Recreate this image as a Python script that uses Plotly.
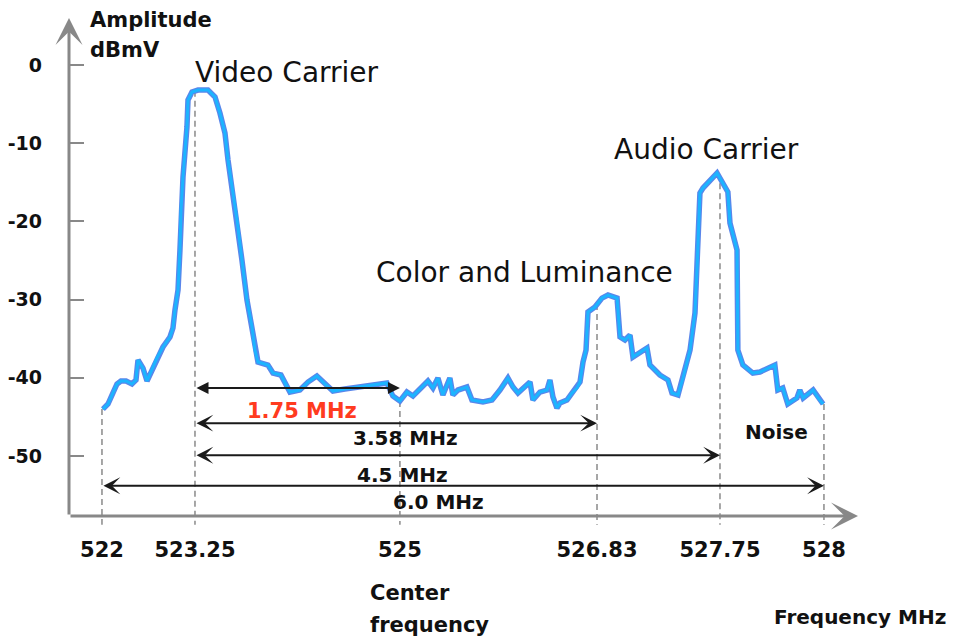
import numpy as np
import plotly.graph_objects as go

# ---------------- data ----------------
freq_mhz = [
    522.013, 522.081, 522.148, 522.202, 522.255, 522.323, 522.403, 522.457, 522.484, 522.551,
    522.605, 522.659, 522.739, 522.820, 522.914, 522.954, 522.981, 523.022, 523.048, 523.062,
    523.089, 523.142, 523.156, 523.210, 523.276, 523.361, 523.421, 523.463, 523.506, 523.532,
    523.566, 523.609, 523.651, 523.694, 523.737, 523.762, 523.788, 523.873, 523.916, 523.984,
    524.061, 524.146, 524.215, 524.291, 524.360, 524.428, 524.530, 524.659, 524.770, 524.889,
    524.940, 525.000, 525.065, 525.121, 525.214, 525.260, 525.307, 525.353, 525.399, 525.464,
    525.492, 525.539, 525.622, 525.669, 525.771, 525.855, 525.929, 526.003, 526.050, 526.096,
    526.208, 526.235, 526.300, 526.366, 526.393, 526.421, 526.458, 526.486, 526.551, 526.598,
    526.644, 526.672, 526.700, 526.728, 526.746, 526.811, 526.867, 526.912, 526.980, 527.002,
    527.039, 527.077, 527.099, 527.204, 527.226, 527.301, 527.361, 527.391, 527.436, 527.473,
    527.526, 527.563, 527.578, 527.600, 527.623, 527.728, 527.769, 527.774, 527.791, 527.793,
    527.805, 527.829, 527.846, 527.882, 527.889, 527.901, 527.913, 527.935, 527.942, 527.950,
    527.974, 527.986, 527.998,
]
amp_dbmv = [
    -44.00, -43.35, -41.94, -40.79, -40.41, -40.41, -40.79, -40.28, -37.72, -38.75,
    -40.41, -39.26, -37.47, -36.06, -34.78, -33.63, -31.33, -28.77, -23.66, -18.54,
    -14.32, -7.93, -4.48, -3.45, -3.20, -3.20, -4.09, -6.14, -8.70, -12.15,
    -15.60, -19.82, -24.94, -30.05, -33.50, -36.45, -37.98, -38.36, -39.39, -39.64,
    -41.82, -41.56, -40.54, -39.77, -40.79, -41.69, -41.43, -41.18, -40.92, -40.66,
    -42.33, -42.97, -41.82, -42.33, -41.05, -40.41, -41.30, -40.03, -42.20, -40.03,
    -42.20, -41.56, -41.18, -42.84, -43.09, -42.84, -41.56, -40.03, -41.18, -41.94,
    -40.54, -42.84, -41.82, -41.56, -40.28, -42.46, -43.86, -43.22, -42.84, -41.94,
    -41.30, -40.54, -37.98, -36.45, -31.59, -30.95, -29.80, -29.41, -29.80, -34.78,
    -35.17, -34.53, -37.34, -36.19, -38.36, -39.64, -40.28, -41.94, -42.20, -40.03,
    -36.45, -31.71, -26.21, -16.37, -15.73, -13.81, -16.24, -20.20, -23.66, -36.45,
    -38.36, -39.39, -39.26, -38.36, -41.56, -41.30, -43.35, -42.58, -41.56, -42.58,
    -41.56, -42.58, -43.35,
]

tick_freqs = [522.0, 523.25, 525.0, 526.83, 527.75, 528.0]
tick_labels = ["522", "523.25", "525", "526.83", "527.75", "528"]
# the original drawing is schematic: frequencies are not spaced linearly
tick_positions = [0.0, 0.773, 2.476, 4.114, 5.136, 6.0]

y_tick_values = [0, -10, -20, -30, -40, -50]
y_tick_labels = ["0", "-10", "-20", "-30", "-40", "-50"]

span_labels = ["1.75 MHz", "3.58 MHz", "4.5 MHz", "6.0 MHz"]
span_start = [523.25, 523.25, 523.25, 522.0]
span_end = [525.0, 526.83, 527.75, 528.0]
span_level = [-41.3, -45.8, -49.9, -53.8]

marker_floor = -58.8  # dashed guide lines run down to just below the axis

# ---------------- figure ----------------
def to_pos(f):
    return np.interp(f, tick_freqs, tick_positions)

xs = to_pos(np.array(freq_mhz))
ys = np.array(amp_dbmv)

fig = go.Figure()

# dashed guide lines at each marked frequency
gx, gy = [], []
for f in tick_freqs:
    top = float(np.interp(f, freq_mhz, amp_dbmv))
    p = float(to_pos(f))
    gx += [p, p, None]
    gy += [top, marker_floor, None]
fig.add_trace(go.Scatter(x=gx, y=gy, mode="lines",
                         line=dict(color="#8a8a8a", width=1.5, dash="6px,4px"),
                         hoverinfo="skip", showlegend=False))

# spectrum trace (outline + bright core)
fig.add_trace(go.Scatter(x=xs, y=ys, mode="lines",
                         line=dict(color="#5a86ea", width=5.5),
                         hoverinfo="skip", showlegend=False))
fig.add_trace(go.Scatter(x=xs, y=ys, mode="lines",
                         line=dict(color="#1cb4ff", width=3),
                         showlegend=False))

annotations = []

# axis arrows
annotations.append(dict(x=1, y=0.02734, xref="paper", yref="paper", ax=-789, ay=0,
                        text="", showarrow=True, arrowhead=3, arrowsize=1.5,
                        arrowwidth=3, arrowcolor="#888888"))
annotations.append(dict(x=0, y=1, xref="paper", yref="paper", ax=0, ay=498,
                        text="", showarrow=True, arrowhead=3, arrowsize=1.5,
                        arrowwidth=3, arrowcolor="#888888"))

# span arrows
for i in range(len(span_labels)):
    head = 2 if i == 0 else 3
    size = 1.2 if i == 0 else 1.4
    annotations.append(dict(
        x=float(to_pos(span_end[i])), y=span_level[i],
        ax=float(to_pos(span_start[i])), ay=span_level[i],
        xref="x", yref="y", axref="x", ayref="y",
        text="", showarrow=True, arrowside="end+start",
        arrowhead=head, startarrowhead=head,
        arrowsize=size, startarrowsize=size,
        arrowwidth=2, arrowcolor="#1a1a1a"))

bold = dict(family="DejaVu Sans", size=20, color="#111111", weight="bold")
big = dict(family="DejaVu Sans", size=28, color="#111111")

def txt(text, x, y, font, xanchor="center"):
    annotations.append(dict(text=text, x=x, y=y, xref="paper", yref="paper",
                            showarrow=False, font=font, xanchor=xanchor,
                            yanchor="middle"))

txt("Video Carrier", 0.2763, 0.8945, big)
txt("Audio Carrier", 0.8074, 0.7422, big)
txt("Color and Luminance", 0.5767, 0.5020, big)
txt(span_labels[0], 0.2953, 0.2324, dict(family="DejaVu Sans", size=21,
                                          color="#ff3b1f", weight="bold"))
txt(span_labels[1], 0.4259, 0.1797, bold)
txt(span_labels[2], 0.4233, 0.1074, bold)
txt(span_labels[3], 0.4677, 0.0547, bold)
txt("Noise", 0.8961, 0.1914, bold)
txt("Amplitude", 0.0241, 0.9961, dict(bold, size=21), xanchor="left")
txt("dBmV", 0.0241, 0.9375, dict(bold, size=21), xanchor="left")
txt("Center", 0.379, -0.1230, dict(bold, size=21), xanchor="left")
txt("frequency", 0.379, -0.1855, dict(bold, size=21), xanchor="left")
txt("Frequency MHz", 1.0025, -0.1699, dict(bold, size=20))

# the page adds an 8px body margin, so the figure is offset by 8px
fig.update_layout(
    width=949, height=633, autosize=False,
    margin=dict(l=61, r=99, t=10, b=111),
    paper_bgcolor="white", plot_bgcolor="white",
    showlegend=False,
    annotations=annotations,
    xaxis=dict(range=[-0.274, 6.283], showgrid=False, zeroline=False,
               showline=False, ticks="", tickvals=tick_positions,
               ticktext=tick_labels, ticklabelstandoff=5, automargin=False,
               tickfont=dict(family="DejaVu Sans", size=21, color="#111111",
                             weight="bold")),
    yaxis=dict(range=[-59.46, 6.01], showgrid=False, zeroline=False,
               showline=False, ticks="inside", ticklen=15, tickwidth=2,
               tickcolor="#888888", tickvals=y_tick_values,
               ticktext=y_tick_labels, ticklabelstandoff=26, automargin=False,
               tickfont=dict(family="DejaVu Sans", size=19, color="#111111",
                             weight="bold")),
)

fig.write_html("out.html")
